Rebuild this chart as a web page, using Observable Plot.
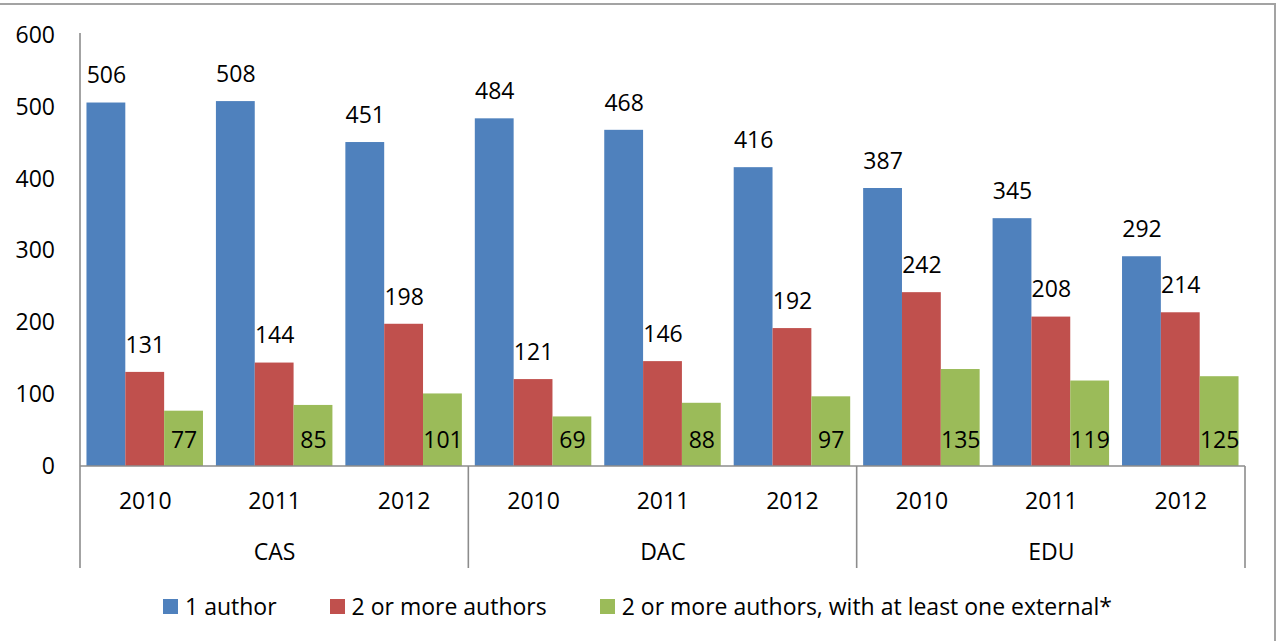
<!DOCTYPE html>
<html>
<head>
<meta charset="utf-8">
<script src="https://cdn.jsdelivr.net/npm/d3@7"></script>
<script src="https://cdn.jsdelivr.net/npm/@observablehq/plot@0.6"></script>
<style>
  body { margin: 0; background: #fff; font-family: "Open Sans", sans-serif; }
  #wrap { position: relative; width: 1280px; height: 641px; overflow: hidden; background: #fff; }
  #frame { position: absolute; left: -5px; top: 3px; width: 1281px; height: 700px; box-sizing: border-box;
           border-top: 2px solid #a3a3a3; border-right: 2px solid #a3a3a3; }
  #chart { position: absolute; left: 0; top: 0; }
  #legend { position: absolute; left: 163px; top: 591px; height: 30px; display: flex; align-items: center;
            gap: 53px; font-size: 23px; color: #000; white-space: nowrap; }
  .item { display: flex; align-items: center; gap: 7px; }
  .sw { width: 15px; height: 15px; display: inline-block; }
</style>
</head>
<body>
<div id="wrap">
  <div id="frame"></div>
  <div id="chart"></div>
  <div id="legend"></div>
</div>
<script>
// ---- data ----
const groups = ["CAS", "DAC", "EDU"];
const years = ["2010", "2011", "2012"];
const seriesNames = ["1 author", "2 or more authors", "2 or more authors, with at least one external*"];
const oneAuthor = [506, 508, 451, 484, 468, 416, 387, 345, 292];
const twoOrMore = [131, 144, 198, 121, 146, 192, 242, 208, 214];
const twoOrMoreExternal = [77, 85, 101, 69, 88, 97, 135, 119, 125];
const seriesColors = ["#4F81BD", "#C0504D", "#9BBB59"];
const yTicks = [0, 100, 200, 300, 400, 500, 600];

// ---- build table ----
const seriesValues = [oneAuthor, twoOrMore, twoOrMoreExternal];
const clusterRows = [];
const rows = [];
groups.forEach((g, gi) => {
  years.forEach((yr, yi) => {
    const cluster = g + " " + yr;
    clusterRows.push({cluster, group: g, year: yr});
    seriesNames.forEach((s, si) => {
      rows.push({cluster, group: g, year: yr, series: s, value: seriesValues[si][gi * 3 + yi]});
    });
  });
});
const clusters = clusterRows.map(d => d.cluster);
const FS = 23;

const plot = Plot.plot({
  width: 1280,
  height: 580,
  marginLeft: 80,
  marginRight: 35,
  marginTop: 35,
  marginBottom: 114,
  style: {fontFamily: "'Open Sans', sans-serif", fontSize: FS + "px", color: "#000", background: "transparent"},
  fx: {domain: clusters, paddingInner: 0.1, paddingOuter: 0.05, axis: null, round: false, label: null},
  x: {domain: seriesNames, padding: 0, axis: null, round: false},
  y: {domain: [0, 600], axis: null},
  color: {domain: seriesNames, range: seriesColors},
  marks: [
    Plot.axisY({ticks: yTicks, tickSize: 0, tickPadding: 32, fontSize: FS, label: null}),
    Plot.barY(rows, {fx: "cluster", x: "series", y: "value", fill: "series", inset: 0}),
    Plot.text(rows.filter(d => d.series !== seriesNames[2]),
      {fx: "cluster", x: "series", y: "value", text: d => String(d.value), dy: -27, fontSize: FS, fill: "#000"}),
    Plot.text(rows.filter(d => d.series === seriesNames[2]),
      {fx: "cluster", x: "series", y: () => 0, text: d => String(d.value), dy: -26, fontSize: FS, fill: "#000"}),
    Plot.text(clusterRows,
      {fx: "cluster", text: "year", frameAnchor: "bottom", lineAnchor: "middle", dy: 35, fontSize: FS, fill: "#000"}),
    Plot.text(clusterRows.filter(d => d.year === years[1]),
      {fx: "cluster", text: "group", frameAnchor: "bottom", lineAnchor: "middle", dy: 86, fontSize: FS, fill: "#000"})
  ]
});

// ---- axis lines & group separators from the plot's own scales ----
const fx = plot.scale("fx");
const ys = plot.scale("y");
const half = (fx.step - fx.bandwidth) / 2;
const y0 = ys.apply(0);
const yTop = ys.apply(600) - 2;
const yBottom = y0 + 102;
const svg = d3.select(plot);
const g = svg.append("g").attr("stroke", "#8c8c8c").attr("stroke-width", 1.6);
const leftX = fx.apply(clusters[0]) - half;
const rightX = fx.apply(clusters[clusters.length - 1]) + fx.bandwidth + half;
g.append("line").attr("x1", leftX).attr("x2", leftX).attr("y1", yTop).attr("y2", yBottom);
g.append("line").attr("x1", leftX).attr("x2", rightX).attr("y1", y0).attr("y2", y0);
groups.forEach((grp, i) => {
  if (i === 0) return;
  const x = fx.apply(grp + " " + years[0]) - half;
  g.append("line").attr("x1", x).attr("x2", x).attr("y1", y0).attr("y2", yBottom);
});
g.append("line").attr("x1", rightX).attr("x2", rightX).attr("y1", y0).attr("y2", yBottom);

document.getElementById("chart").appendChild(plot);

// ---- legend ----
const legend = document.getElementById("legend");
seriesNames.forEach((s, i) => {
  const item = document.createElement("div");
  item.className = "item";
  const sw = document.createElement("span");
  sw.className = "sw";
  sw.style.background = seriesColors[i];
  const t = document.createElement("span");
  t.textContent = s;
  item.appendChild(sw);
  item.appendChild(t);
  legend.appendChild(item);
});
</script>
</body>
</html>
